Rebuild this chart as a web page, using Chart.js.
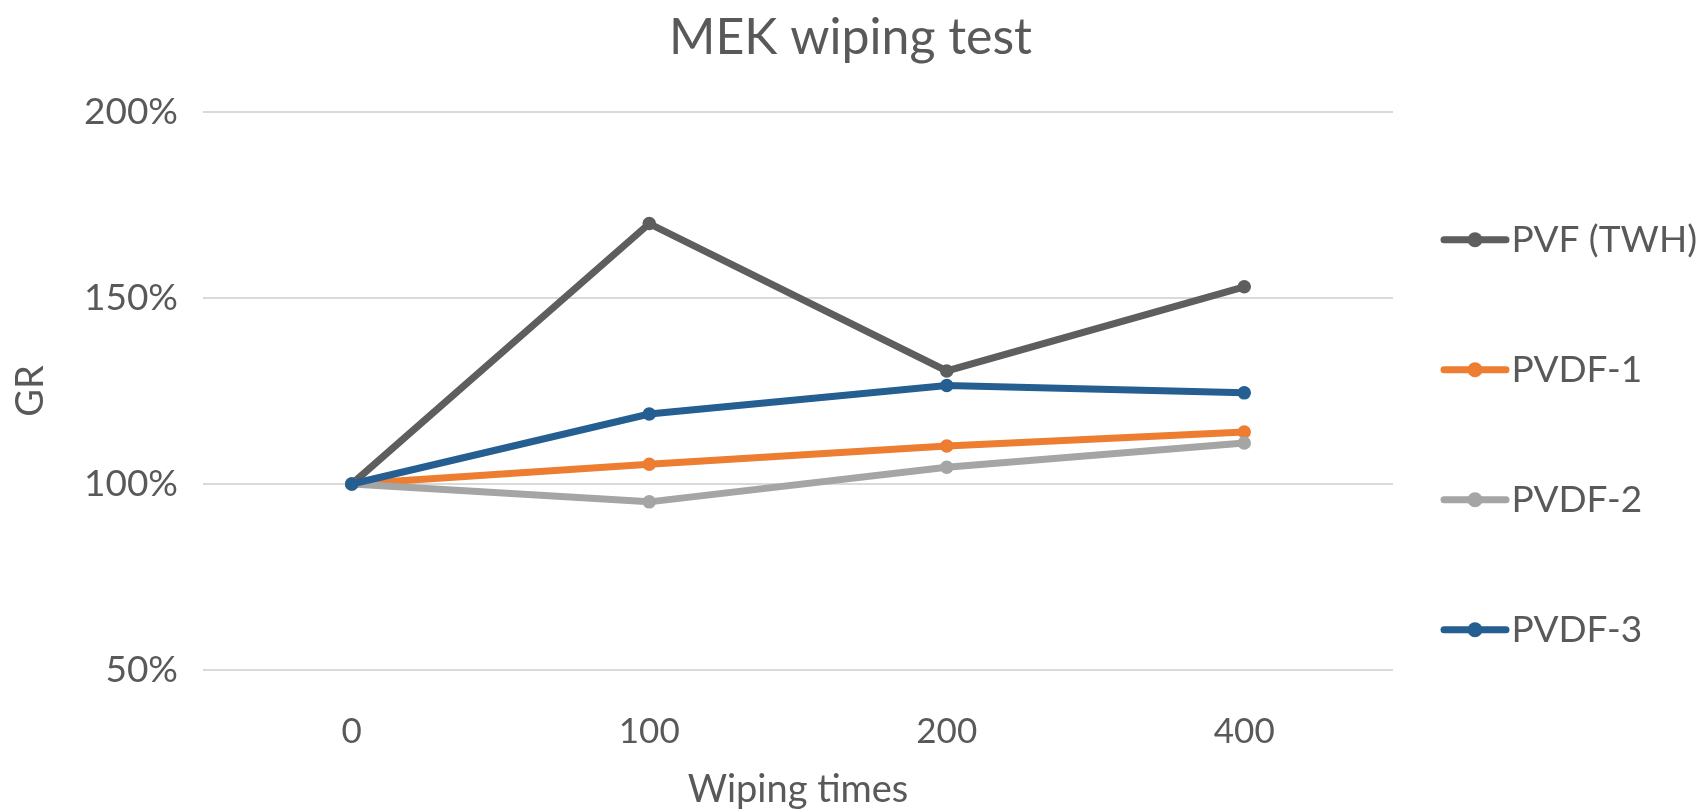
<!DOCTYPE html>
<html>
<head>
<meta charset="utf-8">
<title>MEK wiping test</title>
<script src="https://cdn.jsdelivr.net/npm/chart.js@4.4.1/dist/chart.umd.min.js"></script>
<style>
    html, body { margin: 0; padding: 0; background: #fff; }
    #wrap { width: 1701px; height: 809px; position: relative; }
</style>
</head>
<body>
<div id="wrap"><canvas id="mekChart"></canvas></div>
<script>
// ── Data ───────────────────────────────────────────────
const wipingTimes = ['0', '100', '200', '400'];
const seriesNames = ['PVF (TWH)', 'PVDF-1', 'PVDF-2', 'PVDF-3'];
const pvfTwh = [100, 170, 130.4, 153];
const pvdf1 = [100, 105.3, 110.2, 114];
const pvdf2 = [100, 95.2, 104.5, 111];
const pvdf3 = [100, 118.8, 126.5, 124.5];
const yTicks = [50, 100, 150, 200];

(function() {
    'use strict';

    const FONT = "Lato, 'Open Sans', sans-serif";
    const TEXT = '#595959';
    const colors = ['#5E5E5E', '#ED7D31', '#A5A5A5', '#255E91'];
    const values = [pvfTwh, pvdf1, pvdf2, pvdf3];

    // Excel-style legend marker: a short line with a dot in the middle
    const legendIcons = {
        id: 'legendIcons',
        afterDraw(chart) {
            const legend = chart.legend;
            if (!legend || !legend.legendHitBoxes) return;
            const ctx = chart.ctx;
            legend.legendItems.forEach((item, i) => {
                const hb = legend.legendHitBoxes[i];
                const color = chart.data.datasets[item.datasetIndex].borderColor;
                const cy = hb.top + hb.height / 2;
                ctx.save();
                ctx.strokeStyle = color;
                ctx.fillStyle = color;
                ctx.lineWidth = 7;
                ctx.lineCap = 'round';
                ctx.beginPath();
                ctx.moveTo(hb.left + 3, cy);
                ctx.lineTo(hb.left + 65, cy);
                ctx.stroke();
                ctx.beginPath();
                ctx.arc(hb.left + 34, cy, 7.5, 0, Math.PI * 2);
                ctx.fill();
                ctx.restore();
            });
        }
    };

    const ctx = document.getElementById('mekChart').getContext('2d');

    new Chart(ctx, {
        type: 'line',
        data: {
            labels: wipingTimes,
            datasets: values.map((data, i) => ({
                label: seriesNames[i],
                data: data,
                borderColor: colors[i],
                backgroundColor: colors[i],
                pointBackgroundColor: colors[i],
                pointBorderColor: colors[i],
                pointRadius: 6,
                pointBorderWidth: 1.5,
                borderWidth: 7,
                tension: 0,
                fill: false,
                order: values.length - i
            }))
        },
        options: {
            responsive: true,
            maintainAspectRatio: false,
            animation: false,
            layout: { padding: 0 },
            plugins: {
                title: {
                    display: true,
                    text: 'MEK wiping test',
                    color: TEXT,
                    font: { family: FONT, size: 50, weight: 'normal' },
                    padding: { top: 8, bottom: 44 }
                },
                legend: {
                    position: 'right',
                    align: 'center',
                    maxWidth: 308,
                    title: { display: true, text: '', padding: { top: 0, bottom: 46 } },
                    labels: {
                        color: TEXT,
                        font: { family: FONT, size: 37 },
                        boxWidth: 52,
                        boxHeight: 82,
                        padding: 48,
                        sort: (a, b) => a.datasetIndex - b.datasetIndex,
                        generateLabels: (chart) => {
                            const items = Chart.defaults.plugins.legend.labels.generateLabels(chart);
                            return items.map(it => ({
                                ...it,
                                fillStyle: 'rgba(0,0,0,0)',
                                strokeStyle: 'rgba(0,0,0,0)',
                                lineWidth: 0
                            }));
                        }
                    }
                },
                tooltip: { enabled: false }
            },
            scales: {
                x: {
                    offset: true,
                    afterFit: (scale) => { scale.height = 139; },
                    grid: { display: false, drawTicks: false },
                    border: { display: false },
                    ticks: {
                        color: TEXT,
                        padding: 41,
                        maxRotation: 0,
                        font: { family: FONT, size: 35 }
                    },
                    title: {
                        display: true,
                        text: 'Wiping times',
                        color: TEXT,
                        font: { family: FONT, size: 38, lineHeight: 1 },
                        padding: { top: 0, bottom: 0 }
                    }
                },
                y: {
                    min: yTicks[0],
                    max: yTicks[yTicks.length - 1],
                    afterFit: (scale) => { scale.width = 203; },
                    afterBuildTicks: (scale) => {
                        scale.ticks = yTicks.map(v => ({ value: v }));
                    },
                    grid: { color: '#d9d9d9', lineWidth: 2, drawTicks: false },
                    border: { display: false },
                    ticks: {
                        color: TEXT,
                        padding: 25,
                        font: { family: FONT, size: 37 },
                        callback: (v) => v + '%'
                    },
                    title: {
                        display: true,
                        text: 'GR',
                        color: TEXT,
                        font: { family: FONT, size: 38 },
                        padding: { top: 8, bottom: 0 }
                    }
                }
            }
        },
        plugins: [legendIcons]
    });
})();
</script>
</body>
</html>
